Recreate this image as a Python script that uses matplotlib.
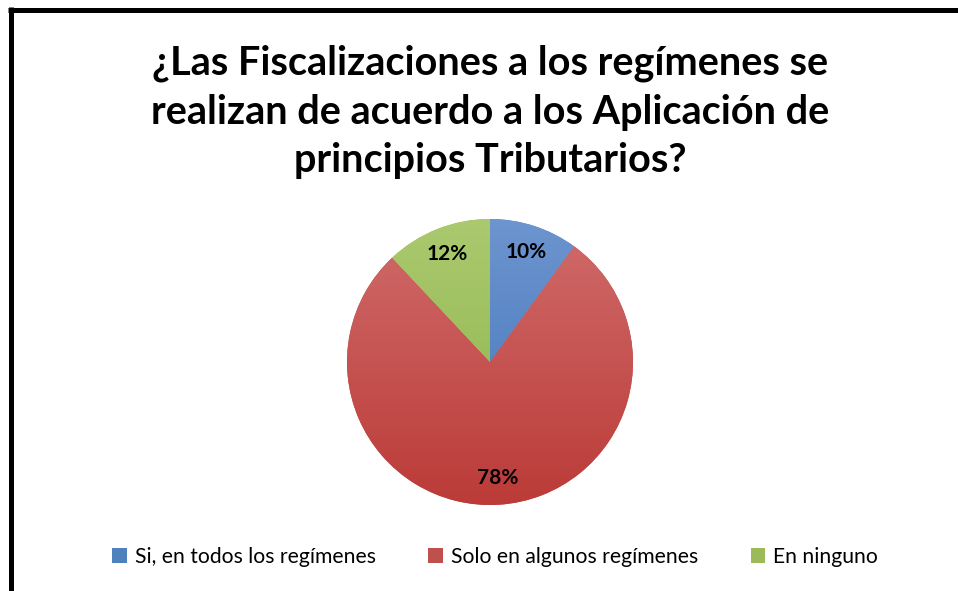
"""Pie chart: fiscalizaciones a los regímenes (Excel-style gradient slices)."""

import matplotlib
matplotlib.use("Agg")
import matplotlib.pyplot as plt
import numpy as np
from matplotlib.colors import LinearSegmentedColormap
from matplotlib.lines import Line2D

# ----- Data -----------------------------------------------------------------

TITLE = ("¿Las Fiscalizaciones a los regímenes se\n"
         "realizan de acuerdo a los Aplicación de\n"
         "principios Tributarios?")
CATEGORIES = ["Si, en todos los regímenes", "Solo en algunos regímenes", "En ninguno"]
VALUES = [10, 78, 12]
LABELS = ["10%", "78%", "12%"]

# (top, bottom) shades of each slice gradient
SHADES = [("#6d95cf", "#3f72b8"), ("#d06c6b", "#bb3b38"), ("#abc96f", "#8ab347")]
BASE_COLORS = ["#4f81bd", "#c0504d", "#9bbb59"]

W, H, DPI = 958, 591, 100
FONT = ["Lato", "DejaVu Sans"]


def main() -> None:
    fig = plt.figure(figsize=(W / DPI, H / DPI), dpi=DPI)
    fig.patch.set_facecolor("white")

    # pie centre at (490, 362) px from top-left, radius 143 px
    cx, cy, r = 490, H - 362, 143
    ax = fig.add_axes([(cx - r) / W, (cy - r) / H, 2 * r / W, 2 * r / H])
    ax.set_xlim(-1, 1)
    ax.set_ylim(-1, 1)
    ax.set_aspect("equal")
    ax.axis("off")

    wedges, texts = ax.pie(
        VALUES, colors=BASE_COLORS, startangle=90, counterclock=False,
        radius=1.0, labels=LABELS, labeldistance=0.81,
        wedgeprops=dict(linewidth=0),
        textprops=dict(fontsize=15, fontweight="bold", family=FONT,
                       color="black", ha="center", va="center"),
    )
    ax.set_xlim(-1, 1)
    ax.set_ylim(-1, 1)

    # vertical gradient clipped to each wedge
    grad = np.linspace(0, 1, 256).reshape(-1, 1)
    for w, (top, bottom) in zip(wedges, SHADES):
        cmap = LinearSegmentedColormap.from_list("g", [top, bottom])
        im = ax.imshow(grad, cmap=cmap, extent=(-1, 1, -1, 1),
                       origin="upper", aspect="auto", zorder=1.5)
        im.set_clip_path(w)
    for t in texts:
        t.set_zorder(3)

    fig.text(490 / W, 1 - 112 / H, TITLE, ha="center", va="center",
             fontsize=28.5, fontweight="bold", family=FONT,
             linespacing=1.38)

    handles = [plt.Rectangle((0, 0), 1, 1, facecolor=c, edgecolor="none")
               for c in BASE_COLORS]
    fig.legend(handles, CATEGORIES, loc="center", ncol=3,
               bbox_to_anchor=(495 / W, 1 - 557 / H), frameon=False,
               prop=dict(family=FONT, size=15.2), handlelength=0.7,
               handleheight=0.7, handletextpad=0.35, columnspacing=2.5)

    # border (top and left edges only are visible)
    lw = 5 * 72 / DPI
    fig.add_artist(Line2D([8 / W, 1.0], [1 - 9.8 / H, 1 - 9.8 / H],
                          transform=fig.transFigure, color="black", lw=lw,
                          solid_capstyle="butt"))
    fig.add_artist(Line2D([10.5 / W, 10.5 / W], [0, 1 - 7.3 / H],
                          transform=fig.transFigure, color="black", lw=lw,
                          solid_capstyle="butt"))

    fig.savefig("out.png", dpi=DPI)
    plt.close(fig)


if __name__ == "__main__":
    main()
